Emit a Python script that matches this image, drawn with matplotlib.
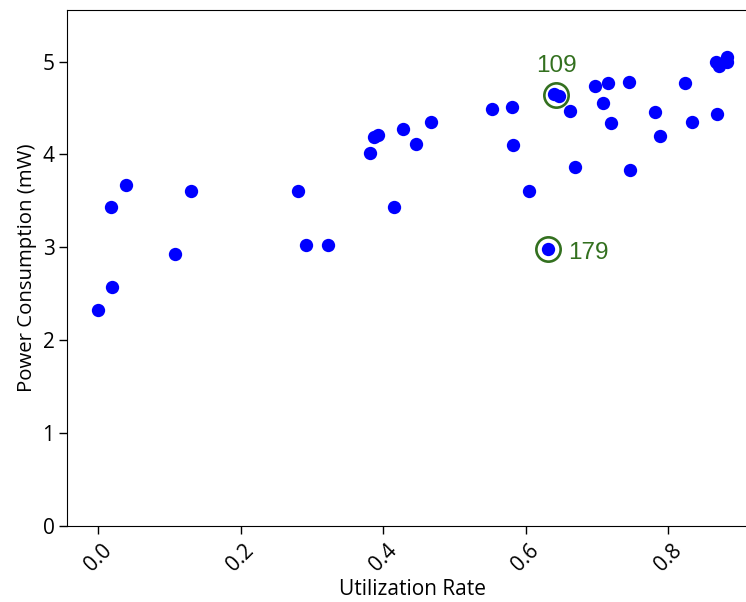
import numpy as np
import matplotlib.pyplot as plt

plt.rcParams['font.family'] = ['Open Sans', 'DejaVu Sans']

utilization = [0.000, 0.019, 0.018, 0.039, 0.107, 0.130, 0.280, 0.291, 0.322, 0.381,
               0.387, 0.392, 0.415, 0.428, 0.446, 0.467, 0.552, 0.580, 0.582, 0.604,
               0.631, 0.639, 0.646, 0.662, 0.669, 0.697, 0.715, 0.708, 0.719, 0.745,
               0.747, 0.781, 0.788, 0.823, 0.833, 0.869, 0.867, 0.871, 0.882, 0.882]
power = [2.325, 2.570, 3.435, 3.672, 2.928, 3.607, 3.607, 3.025, 3.025, 4.017,
         4.189, 4.211, 3.435, 4.275, 4.114, 4.350, 4.490, 4.511, 4.102, 3.607,
         2.982, 4.652, 4.630, 4.468, 3.865, 4.738, 4.771, 4.555, 4.339, 4.781,
         3.833, 4.461, 4.200, 4.771, 4.351, 4.437, 4.996, 4.953, 5.050, 4.996]

# highlighted samples: id, utilization, power
marked_ids = ['109', '179']
marked_x = [0.643, 0.631]
marked_y = [4.641, 2.982]

green = '#33701f'

fig = plt.figure(figsize=(7.46, 6.02), dpi=100)
ax = fig.add_axes([67 / 746, 0.1267, (758 - 67) / 746, 0.9834 - 0.1267])

ax.scatter(utilization, power, s=92, color='blue', linewidths=0, zorder=3)
ax.plot(marked_x, marked_y, 'o', markersize=17.5, markerfacecolor='none',
        markeredgecolor=green, markeredgewidth=1.9, zorder=4)

ax.annotate(marked_ids[0], (marked_x[0], marked_y[0]), xytext=(0, 16.5),
            textcoords='offset points', ha='center', va='baseline',
            color=green, fontsize=17.5, family=['Liberation Sans'])
ax.annotate(marked_ids[1], (marked_x[1], marked_y[1]), xytext=(14.4, -7.2),
            textcoords='offset points', ha='left', va='baseline',
            color=green, fontsize=17.5, family=['Liberation Sans'])

ax.set_xlim(-0.044, 0.926)
ax.set_ylim(0, max(power) * 1.1)
ax.set_xticks([0.0, 0.2, 0.4, 0.6, 0.8])
ax.tick_params(labelsize=15, length=5.5, width=1.0)
ax.tick_params(axis='x', pad=5)
plt.setp(ax.get_xticklabels(), rotation=45)
ax.set_xlabel('Utilization Rate', fontsize=15, labelpad=2)
ax.set_ylabel('Power Consumption (mW)', fontsize=14.7)

fig.savefig('out.png', dpi=100)
